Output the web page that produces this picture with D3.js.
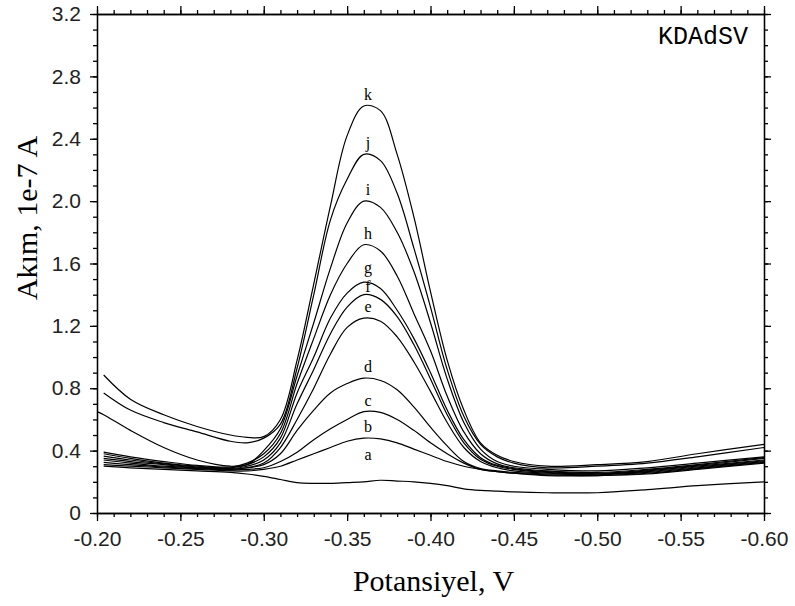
<!DOCTYPE html>
<html><head><meta charset="utf-8">
<script src="https://cdn.jsdelivr.net/npm/d3@7"></script>
<style>body{margin:0;background:#fff}svg{display:block}</style>
</head><body>
<svg id="c" width="795" height="606"></svg>
<script>
const potentials = [-0.200, -0.204, -0.22, -0.24, -0.26, -0.28, -0.29, -0.30, -0.31, -0.32, -0.33, -0.34, -0.35, -0.36, -0.37, -0.38, -0.39, -0.40, -0.41, -0.42, -0.43, -0.44, -0.45, -0.47, -0.50, -0.53, -0.56, -0.60];
const seriesNames = ["a","b","c","d","e","f","g","h","i","j","k"];
const curveA = [null, 0.30, 0.29, 0.28, 0.27, 0.26, 0.25, 0.235, 0.215, 0.195, 0.19, 0.19, 0.195, 0.20, 0.21, 0.205, 0.20, 0.19, 0.175, 0.155, 0.145, 0.14, 0.135, 0.13, 0.13, 0.15, 0.175, 0.20];
const curveB = [null, 0.31, 0.30, 0.29, 0.28, 0.27, 0.27, 0.28, 0.30, 0.34, 0.38, 0.42, 0.46, 0.48, 0.475, 0.45, 0.41, 0.37, 0.33, 0.30, 0.28, 0.265, 0.255, 0.24, 0.24, 0.25, 0.28, 0.32];
const curveC = [null, 0.325, 0.31, 0.295, 0.285, 0.275, 0.28, 0.29, 0.33, 0.39, 0.47, 0.54, 0.60, 0.65, 0.645, 0.60, 0.53, 0.45, 0.38, 0.32, 0.28, 0.265, 0.255, 0.245, 0.24, 0.255, 0.285, 0.325];
const curveD = [null, 0.34, 0.32, 0.30, 0.29, 0.28, 0.29, 0.31, 0.38, 0.53, 0.66, 0.77, 0.83, 0.865, 0.85, 0.79, 0.68, 0.55, 0.43, 0.33, 0.285, 0.27, 0.26, 0.25, 0.245, 0.26, 0.29, 0.33];
const curveE = [null, 0.35, 0.33, 0.31, 0.29, 0.28, 0.29, 0.32, 0.42, 0.60, 0.80, 1.02, 1.19, 1.25, 1.23, 1.13, 0.97, 0.78, 0.58, 0.42, 0.33, 0.29, 0.27, 0.255, 0.25, 0.265, 0.295, 0.335];
const curveF = [null, 0.365, 0.34, 0.315, 0.295, 0.285, 0.30, 0.34, 0.45, 0.70, 0.92, 1.15, 1.32, 1.40, 1.37, 1.26, 1.08, 0.86, 0.63, 0.45, 0.345, 0.30, 0.28, 0.26, 0.25, 0.27, 0.30, 0.34];
const curveG = [null, 0.38, 0.35, 0.32, 0.30, 0.29, 0.31, 0.36, 0.48, 0.77, 1.00, 1.25, 1.41, 1.48, 1.44, 1.30, 1.12, 0.90, 0.66, 0.47, 0.355, 0.305, 0.285, 0.265, 0.255, 0.275, 0.305, 0.35];
const curveH = [null, 0.39, 0.36, 0.33, 0.305, 0.295, 0.32, 0.38, 0.51, 0.83, 1.12, 1.40, 1.60, 1.72, 1.68, 1.52, 1.28, 1.04, 0.75, 0.52, 0.38, 0.315, 0.29, 0.27, 0.26, 0.28, 0.31, 0.355];
const curveI = [0.65, 0.63, 0.53, 0.42, 0.34, 0.30, 0.31, 0.40, 0.54, 0.88, 1.22, 1.57, 1.86, 2.00, 1.96, 1.80, 1.55, 1.22, 0.86, 0.58, 0.41, 0.33, 0.30, 0.28, 0.27, 0.29, 0.32, 0.36];
const curveJ = [null, 0.77, 0.66, 0.58, 0.52, 0.46, 0.45, 0.48, 0.57, 0.93, 1.40, 1.88, 2.14, 2.30, 2.26, 2.05, 1.70, 1.32, 0.92, 0.62, 0.44, 0.36, 0.32, 0.29, 0.30, 0.32, 0.36, 0.42];
const curveK = [null, 0.885, 0.73, 0.63, 0.555, 0.50, 0.485, 0.49, 0.60, 0.98, 1.47, 1.97, 2.42, 2.61, 2.58, 2.30, 1.90, 1.42, 0.98, 0.66, 0.45, 0.37, 0.33, 0.30, 0.31, 0.33, 0.38, 0.44];
const labelPotential = -0.3625;
const xTicks = [-0.20, -0.25, -0.30, -0.35, -0.40, -0.45, -0.50, -0.55, -0.60];
const xTickLabels = ["-0.20", "-0.25", "-0.30", "-0.35", "-0.40", "-0.45", "-0.50", "-0.55", "-0.60"];
const yTicks = [0, 0.4, 0.8, 1.2, 1.6, 2.0, 2.4, 2.8, 3.2];
const yTickLabels = ["0", "0.4", "0.8", "1.2", "1.6", "2.0", "2.4", "2.8", "3.2"];
const xTitle = "Potansiyel, V";
const yTitle = "Akım, 1e-7 A";
const methodLabel = "KDAdSV";

const allCurves = [curveA, curveB, curveC, curveD, curveE, curveF, curveG, curveH, curveI, curveJ, curveK];
const series = seriesNames.map((n, i) => ({name: n, values: potentials.map((p, j) => ({x: p, y: allCurves[i][j]}))}));

const svg = d3.select("#c");
const L = 97, R = 764, T = 14, B = 513;
const x = d3.scaleLinear().domain([-0.20, -0.60]).range([L, R]);
const y = d3.scaleLinear().domain([0, 3.2]).range([B, T]);

const xMinor = d3.range(0, 41).map(i => -0.20 - i * 0.01);
const yMinor = d3.range(0, 33).map(i => i * 0.1);

function styleAxis(g) {
  g.selectAll("path.domain").attr("stroke", "#000").attr("stroke-width", 1.3);
  g.selectAll(".tick line").attr("stroke", "#000").attr("stroke-width", 1.3);
}
svg.append("g").attr("transform", `translate(0,${B})`).call(d3.axisBottom(x).tickValues(xMinor).tickSize(4).tickSizeOuter(0).tickFormat("")).call(styleAxis);
svg.append("g").attr("transform", `translate(0,${T})`).call(d3.axisTop(x).tickValues(xMinor).tickSize(4).tickSizeOuter(0).tickFormat("")).call(styleAxis);
svg.append("g").attr("transform", `translate(${L},0)`).call(d3.axisLeft(y).tickValues(yMinor).tickSize(4).tickSizeOuter(0).tickFormat("")).call(styleAxis);
svg.append("g").attr("transform", `translate(${R},0)`).call(d3.axisRight(y).tickValues(yMinor).tickSize(4).tickSizeOuter(0).tickFormat("")).call(styleAxis);
const xb = svg.append("g").attr("transform", `translate(0,${B})`).call(d3.axisBottom(x).tickValues(xTicks).tickSize(8).tickSizeOuter(0).tickPadding(10).tickFormat((d, i) => xTickLabels[i])).call(styleAxis);
svg.append("g").attr("transform", `translate(0,${T})`).call(d3.axisTop(x).tickValues(xTicks).tickSize(8).tickSizeOuter(0).tickFormat("")).call(styleAxis);
const yl = svg.append("g").attr("transform", `translate(${L},0)`).call(d3.axisLeft(y).tickValues(yTicks).tickSize(7).tickSizeOuter(0).tickPadding(9).tickFormat((d, i) => yTickLabels[i])).call(styleAxis);
svg.append("g").attr("transform", `translate(${R},0)`).call(d3.axisRight(y).tickValues(yTicks).tickSize(7).tickSizeOuter(0).tickFormat("")).call(styleAxis);
[xb, yl].forEach(g => g.selectAll("text").attr("font-family", "Liberation Sans, Arial, sans-serif").attr("font-size", 21).attr("fill", "#222"));

const line = d3.line().defined(d => d.y !== null).x(d => x(d.x)).y(d => y(d.y)).curve(d3.curveCatmullRom.alpha(0.5));
svg.append("g").selectAll("path").data(series).join("path")
  .attr("d", d => line(d.values)).attr("fill", "none").attr("stroke", "#000").attr("stroke-width", 1.2);

const labelGap = {g: 9, f: 3};
svg.append("g").selectAll("text").data(series).join("text")
  .attr("x", x(labelPotential)).attr("y", d => y(d3.max(d.values, v => v.y)) - (labelGap[d.name] || 6))
  .attr("text-anchor", "middle").attr("font-family", "Liberation Serif, Times New Roman, serif").attr("font-size", 16)
  .text(d => d.name);

svg.append("text").attr("x", (L + R) / 2 + 3).attr("y", 591).attr("text-anchor", "middle")
  .attr("font-family", "Liberation Serif, Times New Roman, serif").attr("font-size", 30).text(xTitle);
svg.append("text").attr("transform", `translate(37,218) rotate(-90)`).attr("text-anchor", "middle")
  .attr("font-family", "Liberation Serif, Times New Roman, serif").attr("font-size", 30).text(yTitle);
svg.append("text").attr("x", 748).attr("y", 44).attr("text-anchor", "end")
  .attr("font-family", "Courier New, Liberation Mono, monospace").attr("font-size", 25).text(methodLabel);
</script>
</body></html>
